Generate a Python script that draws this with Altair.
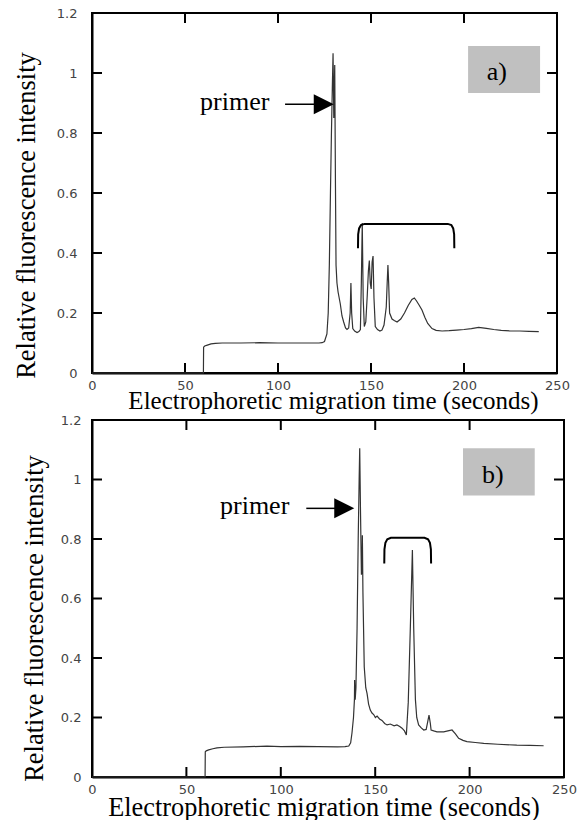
import altair as alt
import pandas as pd

# ---------------- data ----------------
a_time = [0, 59.9, 60.0, 60.6, 62.0, 64.0, 66.3, 70, 80, 90, 100, 110, 118, 122, 123.7, 125.0,
          126.3, 127.0, 127.6, 128.2, 128.7, 129.2, 129.6, 130.0, 130.5, 130.9, 131.2, 131.7,
          132.3, 133.5, 134.4, 135.3, 136.3, 137.1, 138.0, 138.8, 139.2, 139.6, 140.2, 141.2,
          142.5, 143.5, 144.3, 144.8, 145.3, 145.8, 146.4, 147.2, 148.0, 148.6, 149.1, 149.6,
          150.1, 150.6, 151.1, 151.6, 152.3, 153.5, 154.8, 155.9, 157.0, 158.2, 158.7, 159.1,
          159.5, 160.0, 161.3, 162.5, 164.0, 166.0, 168.0, 170.0, 172.0, 173.3, 174.5, 176.0,
          177.4, 179.0, 180.5, 182.8, 185.0, 188.2, 192, 196, 200, 204, 207.9, 212, 216, 220,
          225, 230, 235, 240.2]
a_value = [0, 0, 0.086, 0.09, 0.093, 0.097, 0.099, 0.1, 0.1, 0.101, 0.1, 0.1, 0.1, 0.1, 0.101, 0.105,
           0.13, 0.2, 0.36, 0.6, 0.79, 0.95, 1.066, 0.85, 1.027, 0.62, 0.36, 0.3,
           0.27, 0.23, 0.19, 0.17, 0.15, 0.145, 0.15, 0.2, 0.30, 0.2, 0.148, 0.14,
           0.135, 0.138, 0.145, 0.3, 0.50, 0.25, 0.155, 0.17, 0.26, 0.34, 0.375, 0.3,
           0.28, 0.37, 0.39, 0.25, 0.155, 0.145, 0.14, 0.143, 0.16, 0.22, 0.3, 0.36,
           0.3, 0.2, 0.18, 0.175, 0.17, 0.18, 0.2, 0.225, 0.245, 0.25, 0.24, 0.225,
           0.21, 0.185, 0.165, 0.148, 0.142, 0.14, 0.141, 0.143, 0.145, 0.148, 0.152, 0.149, 0.145, 0.142,
           0.14, 0.14, 0.139, 0.138]

b_time = [0, 59.9, 60.0, 60.5, 61.8, 64.0, 66.2, 70, 80, 92.7, 100, 110, 120, 130, 134, 136.0,
          137.0, 137.7, 138.5, 139.0, 139.1, 139.4, 139.8, 140.4, 141.0, 141.5, 141.8, 142.2,
          142.7, 143.0, 143.2, 143.5, 144.2, 145.0, 145.7, 146.5, 147.4, 148.3, 149.2, 150.1,
          151.0, 152.3, 153.6, 155.0, 156.3, 158.0, 160.0, 161.5, 163.0, 164.2, 165.5, 166.5,
          167.5, 168.6, 169.7, 170.4, 171.3, 172.0, 173.0, 174.4, 175.7, 177.0, 177.8, 178.5,
          179.2, 179.6, 181.0, 182.7, 184.5, 186.3, 188.5, 190.7, 192.5, 194.2, 196.5, 198.6,
          203, 207.5, 215, 225, 232, 239.2]
b_value = [0, 0, 0.085, 0.088, 0.091, 0.095, 0.098, 0.1, 0.101, 0.104, 0.102, 0.103, 0.102, 0.101, 0.102, 0.104,
           0.115, 0.148, 0.2, 0.26, 0.326, 0.26, 0.3, 0.5, 0.8, 1.0, 1.105, 0.9,
           0.68, 0.7, 0.813, 0.62, 0.37, 0.3, 0.28, 0.245, 0.225, 0.215, 0.21, 0.2,
           0.205, 0.195, 0.19, 0.18, 0.175, 0.178, 0.172, 0.175, 0.17, 0.164, 0.155, 0.141,
           0.25, 0.5, 0.763, 0.5, 0.26, 0.2, 0.175, 0.165, 0.158, 0.16, 0.185, 0.208,
           0.18, 0.158, 0.155, 0.152, 0.152, 0.152, 0.155, 0.158, 0.145, 0.13, 0.123, 0.119,
           0.116, 0.113, 0.11, 0.107, 0.106, 0.105]

x_label_values = [0, 50, 100, 150, 200, 250]
y_label_values = [0, 0.2, 0.4, 0.6, 0.8, 1.0, 1.2]
x_inner_ticks = [50, 100, 150, 200]
y_inner_ticks = [0.2, 0.4, 0.6, 0.8, 1.0]
x_title = "Electrophoretic migration time (seconds)"
y_title = "Relative fluorescence intensity"

# annotations (data coordinates)
a_bracket_t = [143.0, 143.1, 143.6, 144.6, 146.5, 191.3, 193.2, 194.2, 194.7, 194.8]
a_bracket_v = [0.416, 0.462, 0.482, 0.493, 0.497, 0.497, 0.493, 0.482, 0.462, 0.416]
b_bracket_t = [154.8, 154.9, 155.4, 156.4, 158.3, 176.1, 178.0, 179.0, 179.5, 179.6]
b_bracket_v = [0.718, 0.765, 0.787, 0.799, 0.804, 0.804, 0.799, 0.787, 0.765, 0.718]

a_arrow_t, a_arrow_v = [103.8, 123.0], [0.896, 0.896]
a_head_t, a_head_v = 124.6, 0.896
b_arrow_t, b_arrow_v = [113.5, 129.0], [0.903, 0.903]
b_head_t, b_head_v = 133.6, 0.903

a_primer = (58.1, 0.877)
b_primer = (67.8, 0.884)
a_box = (202.2, 240.9, 0.933, 1.09)
b_box = (196.5, 234.5, 0.946, 1.105)
a_tag = ("a)", 217.7, 0.977)
b_tag = ("b)", 212.3, 0.987)

X_MAX, Y_MAX = 250, 1.2
TICK_PX = 10


def tick_rules(W, H):
    """Inward tick marks on all four sides, as rule segments in data units."""
    lx = TICK_PX / W * X_MAX
    ly = TICK_PX / H * Y_MAX
    rows = []
    for t in x_inner_ticks:
        rows.append((t, t, 0, ly))
        rows.append((t, t, Y_MAX - ly, Y_MAX))
    for v in y_inner_ticks:
        rows.append((0, lx, v, v))
        rows.append((X_MAX - lx, X_MAX, v, v))
    return pd.DataFrame(rows, columns=["t", "t2", "v", "v2"])


def panel(times, values, W, H, bracket, arrow, head, primer, box, tag, lab_pad_y,
          x_title_pos, y_title_pos, x_title_size):
    xs = alt.Scale(domain=[0, X_MAX], nice=False, zero=False)
    ys = alt.Scale(domain=[0, Y_MAX], nice=False, zero=False)
    xax = alt.Axis(values=x_label_values, labelExpr="format(datum.value, 'd')",
                   ticks=False, domain=True, domainColor="black", domainWidth=2,
                   grid=False, labelFlush=False, labelOverlap=False,
                   labelFont="DejaVu Sans", labelFontSize=13, labelColor="#444", labelPadding=6,
                   title=x_title, titleFont="Liberation Serif", titleFontSize=x_title_size,
                   titleFontWeight="normal", titleColor="black",
                   titleX=x_title_pos[0], titleY=x_title_pos[1], titleBaseline="alphabetic",
                   titleAlign="center")
    yax = alt.Axis(values=y_label_values, format="~g", ticks=False,
                   domain=True, domainColor="black", domainWidth=2,
                   grid=False, labelFlush=False, labelOverlap=False,
                   labelFont="DejaVu Sans", labelFontSize=13, labelColor="#444",
                   labelPadding=lab_pad_y,
                   title=y_title, titleFont="Liberation Serif", titleFontSize=26.5,
                   titleFontWeight="normal", titleColor="black",
                   titleX=y_title_pos[0], titleY=y_title_pos[1], titleBaseline="alphabetic",
                   titleAlign="center", titleAngle=270)

    def X(f="t"):
        return alt.X(f, type="quantitative", scale=xs, axis=xax)

    def Y(f="v"):
        return alt.Y(f, type="quantitative", scale=ys, axis=yax)

    bx = alt.Chart(pd.DataFrame({"t": [box[0]], "t2": [box[1]], "v": [box[2]], "v2": [box[3]]})
                   ).mark_rect(color="#c0c0c0").encode(x=X(), x2="t2", y=Y(), y2="v2")

    trace = alt.Chart(pd.DataFrame({"t": times, "v": values})).mark_line(
        color="#333", strokeWidth=1.2).encode(x=X(), y=Y())

    frame = alt.Chart(pd.DataFrame({"t": [0], "t2": [X_MAX], "v": [0], "v2": [Y_MAX]})
                      ).mark_rect(filled=False, fillOpacity=0, stroke="black", strokeWidth=2,
                                  opacity=1).encode(x=X(), x2="t2", y=Y(), y2="v2")

    ticks = alt.Chart(tick_rules(W, H)).mark_rule(color="black", strokeWidth=2).encode(
        x=X(), x2="t2", y=Y(), y2="v2")

    br = alt.Chart(pd.DataFrame({"t": bracket[0], "v": bracket[1], "o": list(range(len(bracket[0])))})
                   ).mark_line(color="black", strokeWidth=2).encode(x=X(), y=Y(), order="o:Q")
    arr = alt.Chart(pd.DataFrame({"t": arrow[0], "v": arrow[1]})).mark_line(
        color="black", strokeWidth=1.5).encode(x=X(), y=Y())

    hd = alt.Chart(pd.DataFrame({"t": [head[0]], "v": [head[1]]})).mark_point(
        shape="M-1,-1L1,0L-1,1Z", size=400, filled=True, color="black", opacity=1,
        strokeWidth=0).encode(x=X(), y=Y())

    pr = alt.Chart(pd.DataFrame({"t": [primer[0]], "v": [primer[1]], "s": ["primer"]})).mark_text(
        font="Liberation Serif", fontSize=26, baseline="alphabetic", color="black",
        align="left").encode(x=X(), y=Y(), text="s:N")
    tg = alt.Chart(pd.DataFrame({"t": [tag[1]], "v": [tag[2]], "s": [tag[0]]})).mark_text(
        font="Liberation Serif", fontSize=26, baseline="alphabetic", color="black",
        align="center").encode(x=X(), y=Y(), text="s:N")

    return alt.layer(bx, frame, ticks, trace, br, arr, hd, pr, tg).properties(width=W, height=H)


top = panel(a_time, a_value, 465, 360, (a_bracket_t, a_bracket_v), (a_arrow_t, a_arrow_v),
            (a_head_t, a_head_v), a_primer, a_box, a_tag, 15,
            (241, 35), (-57.5, 202), 25)
bottom = panel(b_time, b_value, 472, 357, (b_bracket_t, b_bracket_v), (b_arrow_t, b_arrow_v),
               (b_head_t, b_head_v), b_primer, b_box, b_tag, 11,
               (231.5, 38), (-50, 198), 26.3)

# with autosize "none" the drawing surface is sized by the padding alone, so the padding
# reserves the whole page area around the flush-aligned panels
chart = alt.vconcat(top, bottom, spacing=47, bounds="flush").properties(
    padding={"left": 84, "top": 5, "right": 485, "bottom": 807},
    autosize=alt.AutoSizeParams(type="none"),
    background="white",
).configure_view(stroke="black", strokeWidth=2)

chart.save("out.html", embed_options={"renderer": "svg", "actions": False})
